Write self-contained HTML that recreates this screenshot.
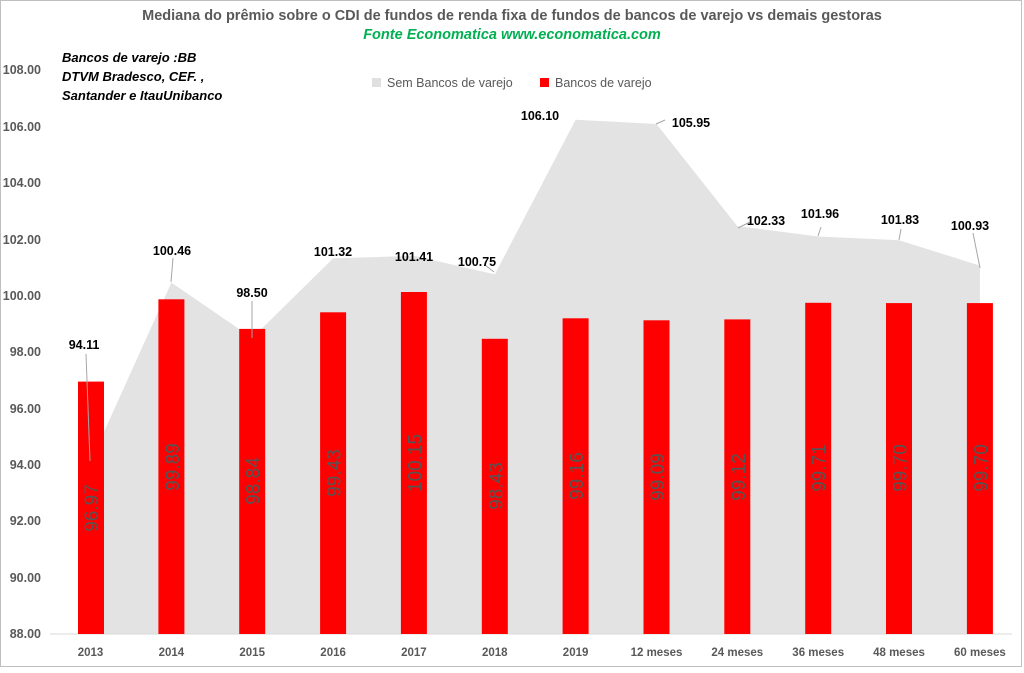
<!DOCTYPE html>
<html><head><meta charset="utf-8"><style>
body{margin:0;background:#fff}
text{font-family:"Liberation Sans",Arial,sans-serif}
</style></head><body>
<svg width="1024" height="668" xmlns="http://www.w3.org/2000/svg">
<rect x="0.5" y="0.5" width="1021" height="666" fill="#fff" stroke="#bfbfbf"/>
<text x="512" y="20" text-anchor="middle" font-size="14.5" font-weight="bold" fill="#595959">Mediana do prêmio sobre o CDI de fundos de renda fixa de fundos de bancos de varejo  vs demais gestoras</text>
<text x="512" y="39" text-anchor="middle" font-size="14.5" font-weight="bold" font-style="italic" fill="#00b050">Fonte Economatica www.economatica.com</text>
<g font-size="13" font-weight="bold" font-style="italic" fill="#000">
<text x="62" y="62">Bancos de varejo :BB</text>
<text x="62" y="81">DTVM Bradesco, CEF. ,</text>
<text x="62" y="100">Santander e ItauUnibanco</text>
</g>
<rect x="372" y="78" width="9" height="9" fill="#e0e0e0"/>
<text x="387" y="87" font-size="12.5" fill="#595959">Sem Bancos de varejo</text>
<rect x="540" y="78" width="9" height="9" fill="#ff0000"/>
<text x="555" y="87" font-size="12.5" fill="#595959">Bancos de varejo</text>
<g font-size="12.5" font-weight="bold" fill="#595959" text-anchor="end">
<text x="41" y="74">108.00</text><text x="41" y="131">106.00</text><text x="41" y="187">104.00</text>
<text x="41" y="244">102.00</text><text x="41" y="300">100.00</text><text x="41" y="356">98.00</text>
<text x="41" y="413">96.00</text><text x="41" y="469">94.00</text><text x="41" y="525">92.00</text>
<text x="41" y="582">90.00</text><text x="41" y="638">88.00</text>
</g>
<polygon fill="#e3e3e3" points="90.5,634 90.5,461.7 171.4,282.6 252.2,338 333.1,258.4 413.9,255.8 494.8,274.4 575.6,119.8 656.5,124 737.3,226.1 818.2,236.5 899,240.2 979.9,265.6 979.9,634"/>
<line x1="50" y1="634" x2="1012" y2="634" stroke="#d9d9d9"/>
<g fill="#ff0000">
<rect x="78" y="381.6" width="26" height="252.4"/>
<rect x="158.4" y="299.3" width="26" height="334.7"/>
<rect x="239.2" y="328.9" width="26" height="305.1"/>
<rect x="320.1" y="312.3" width="26" height="321.7"/>
<rect x="400.9" y="292" width="26" height="342"/>
<rect x="481.8" y="338.8" width="26" height="295.2"/>
<rect x="562.6" y="318.3" width="26" height="315.7"/>
<rect x="643.5" y="320.3" width="26" height="313.7"/>
<rect x="724.3" y="319.4" width="26" height="314.6"/>
<rect x="805.2" y="302.8" width="26" height="331.2"/>
<rect x="886" y="303.1" width="26" height="330.9"/>
<rect x="966.9" y="303.1" width="26" height="330.9"/>
</g>
<g font-size="19" fill="#555555" text-anchor="middle">
<text transform="translate(98,508) rotate(-90)">96.97</text>
<text transform="translate(178.9,467) rotate(-90)">99.89</text>
<text transform="translate(259.7,481) rotate(-90)">98.84</text>
<text transform="translate(340.6,473) rotate(-90)">99.43</text>
<text transform="translate(421.4,463) rotate(-90)">100.15</text>
<text transform="translate(502.3,486) rotate(-90)">98.43</text>
<text transform="translate(583.1,476) rotate(-90)">99.16</text>
<text transform="translate(664,477) rotate(-90)">99.09</text>
<text transform="translate(744.8,477) rotate(-90)">99.12</text>
<text transform="translate(825.7,468) rotate(-90)">99.71</text>
<text transform="translate(906.5,468) rotate(-90)">99.70</text>
<text transform="translate(987.4,468) rotate(-90)">99.70</text>
</g>
<g stroke="#a6a6a6" stroke-width="1">
<line x1="86" y1="354" x2="90" y2="461"/>
<line x1="173" y1="258" x2="171" y2="282"/>
<line x1="252" y1="301" x2="252" y2="338"/>
<line x1="494" y1="272" x2="485" y2="265"/>
<line x1="656" y1="124" x2="665" y2="120"/>
<line x1="738" y1="228" x2="750" y2="222"/>
<line x1="818" y1="236" x2="821" y2="227"/>
<line x1="899" y1="240" x2="901" y2="229"/>
<line x1="980" y1="268" x2="973" y2="233"/>
</g>
<g font-size="12.5" font-weight="bold" fill="#000" text-anchor="middle">
<text x="84" y="349">94.11</text>
<text x="172" y="255">100.46</text>
<text x="252" y="297">98.50</text>
<text x="333" y="256">101.32</text>
<text x="414" y="261">101.41</text>
<text x="477" y="266">100.75</text>
<text x="540" y="120">106.10</text>
<text x="691" y="127">105.95</text>
<text x="766" y="225">102.33</text>
<text x="820" y="218">101.96</text>
<text x="900" y="224">101.83</text>
<text x="970" y="230">100.93</text>
</g>
<g font-size="11.5" font-weight="bold" fill="#595959" text-anchor="middle">
<text x="90.5" y="656">2013</text><text x="171.4" y="656">2014</text><text x="252.2" y="656">2015</text>
<text x="333.1" y="656">2016</text><text x="413.9" y="656">2017</text><text x="494.8" y="656">2018</text>
<text x="575.6" y="656">2019</text><text x="656.5" y="656">12 meses</text><text x="737.3" y="656">24 meses</text>
<text x="818.2" y="656">36 meses</text><text x="899" y="656">48 meses</text><text x="979.9" y="656">60 meses</text>
</g>
</svg>
</body></html>
